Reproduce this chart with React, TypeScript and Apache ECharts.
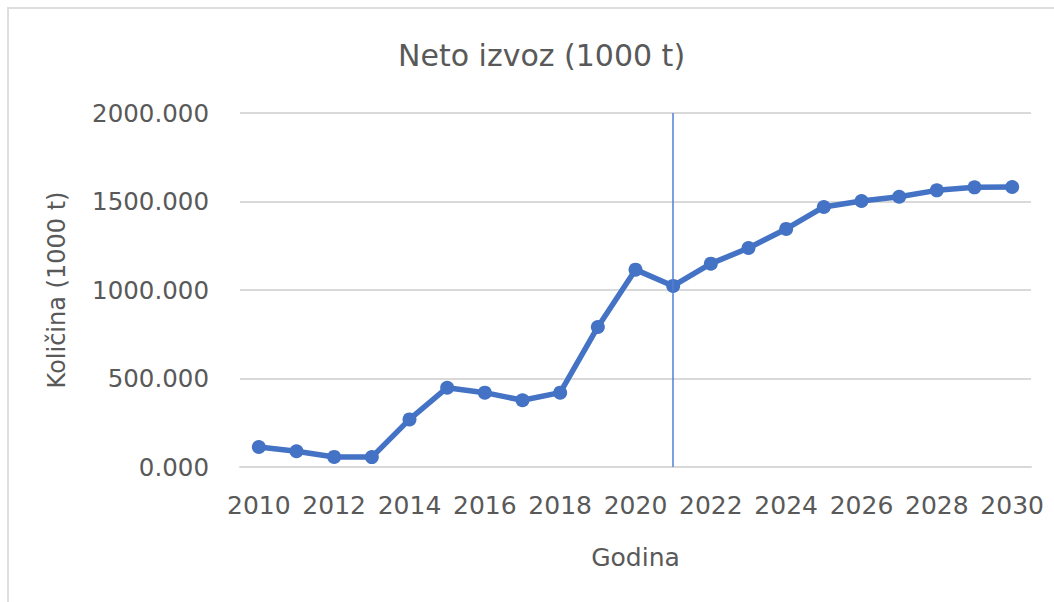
import React, { useEffect, useRef } from "react";
import * as echarts from "echarts";

const years = [
  "2010", "2011", "2012", "2013", "2014", "2015", "2016", "2017", "2018", "2019", "2020",
  "2021", "2022", "2023", "2024", "2025", "2026", "2027", "2028", "2029", "2030",
];
const netExport = [
  113, 89, 57, 56, 269, 448, 420, 377, 420, 791, 1115,
  1023, 1149, 1237, 1345, 1469, 1503, 1527, 1563, 1580, 1582,
];
const dividerYear = "2021";
const yTicks = { min: 0, max: 2000, interval: 500 };

const FONT = "DejaVu Sans";
const TEXT = "#595959";
const BLUE = "#4472C4";

export default function App() {
  const ref = useRef<HTMLDivElement>(null);
  useEffect(() => {
    if (!ref.current) return;
    const chart = echarts.init(ref.current, undefined, { renderer: "svg" });
    const markStyle = { color: "#4f7fd6", width: 1.5, type: "solid" as const, opacity: 1 };
    chart.setOption({
      animation: false,
      backgroundColor: "transparent",
      title: {
        text: "Neto izvoz (1000 t)",
        left: 393,
        top: 35,
        textStyle: { fontFamily: FONT, fontSize: 30, fontWeight: "normal", color: TEXT },
      },
      grid: { left: 240, right: 23, top: 113, bottom: 135, containLabel: false },
      xAxis: {
        type: "category",
        data: years,
        boundaryGap: true,
        name: "Godina",
        nameLocation: "middle",
        nameGap: 78,
        nameTextStyle: { fontFamily: FONT, fontSize: 25, color: TEXT },
        axisLine: { show: true, lineStyle: { color: "#d9d9d9", width: 2 } },
        axisTick: { show: false },
        axisLabel: {
          interval: 1,
          margin: 26,
          fontFamily: FONT,
          fontSize: 25,
          color: TEXT,
        },
      },
      yAxis: {
        type: "value",
        min: yTicks.min,
        max: yTicks.max,
        interval: yTicks.interval,
        name: "Količina (1000 t)",
        nameLocation: "middle",
        nameGap: 171,
        nameRotate: 90,
        nameTextStyle: { fontFamily: FONT, fontSize: 24, color: TEXT },
        axisLine: { show: false },
        axisTick: { show: false },
        splitLine: { lineStyle: { color: "#d9d9d9", width: 2 } },
        axisLabel: {
          margin: 31,
          fontFamily: FONT,
          fontSize: 24.5,
          color: TEXT,
          formatter: (v: number) => v.toFixed(3),
        },
      },
      series: [
        {
          type: "line",
          data: netExport,
          symbol: "circle",
          symbolSize: 14,
          lineStyle: { color: BLUE, width: 5.5 },
          itemStyle: { color: BLUE },
          z: 3,
          markLine: {
            silent: true,
            symbol: "none",
            label: { show: false },
            lineStyle: markStyle,
            emphasis: { disabled: true },
            data: [{ xAxis: dividerYear, lineStyle: markStyle }],
          },
        },
      ],
    });
    return () => chart.dispose();
  }, []);

  return (
    <div
      style={{
        position: "fixed",
        left: 0,
        top: 0,
        width: 1054,
        height: 602,
        overflow: "hidden",
        background: "#ffffff",
      }}
    >
      <div
        style={{
          position: "absolute",
          left: 7,
          top: 7,
          width: 1200,
          height: 800,
          border: "2px solid #dedede",
          boxSizing: "border-box",
        }}
      />
      <div
        ref={ref}
        style={{ position: "absolute", left: 0, top: 0, width: 1054, height: 602 }}
      />
    </div>
  );
}
